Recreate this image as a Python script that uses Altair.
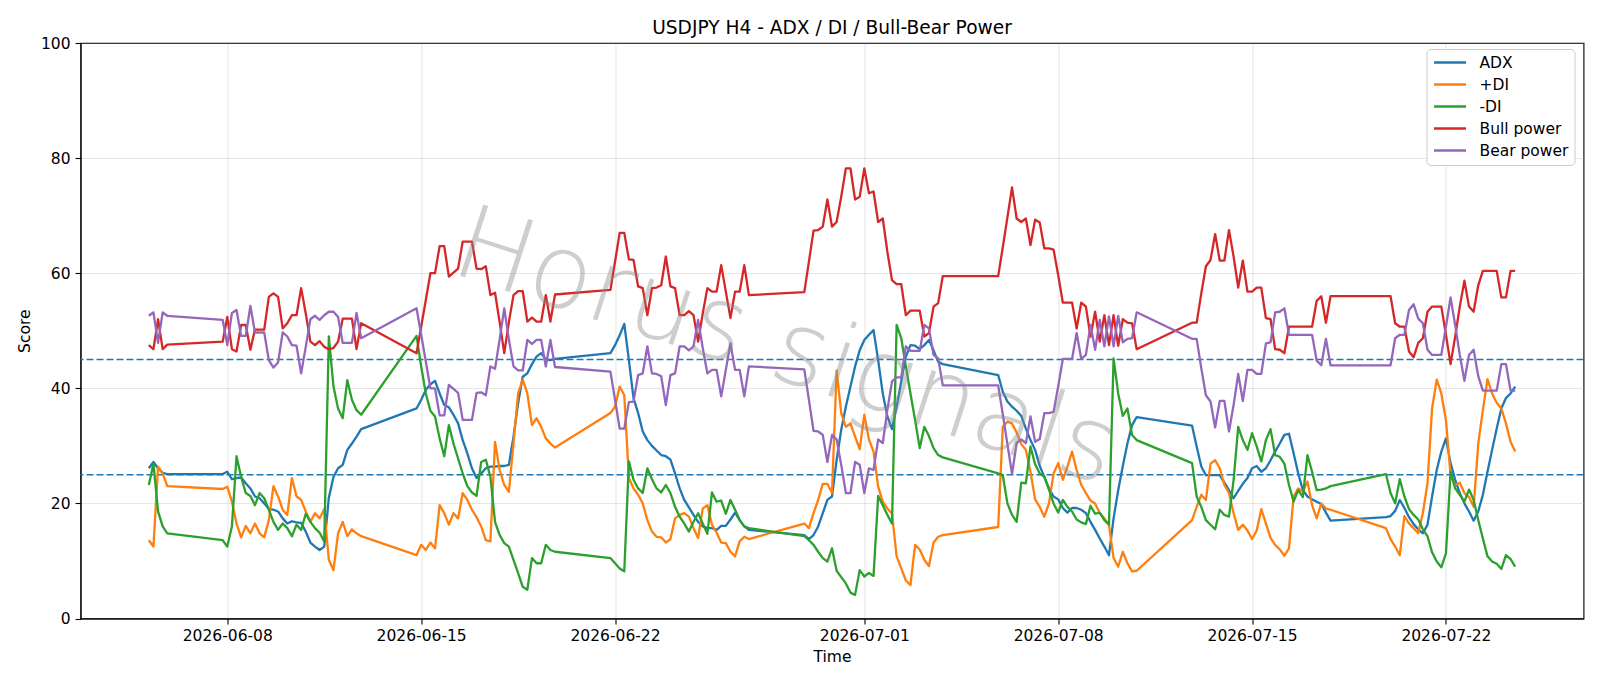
import altair as alt
import pandas as pd

# H4 trading sessions: (first bar, number of bars). Each FX week runs Sunday 20:00 -> Friday 20:00.
SESSIONS = [
    ("2026-06-05 04:00", 5),
    ("2026-06-07 20:00", 31),
    ("2026-06-14 20:00", 31),
    ("2026-06-21 20:00", 31),
    ("2026-06-28 20:00", 31),
    ("2026-07-05 20:00", 31),
    ("2026-07-12 20:00", 31),
    ("2026-07-19 20:00", 29),
]

ADX = [
    26.1, 27.2, 26.1, 25.3, 25.1,
    25.1, 25.5, 24.2, 24.4, 24.5, 23.5, 22.6, 21.2, 20.9, 20.0, 19.0, 18.9, 18.6, 17.4, 16.5, 16.9,
    16.7, 16.6, 15.1, 13.2, 12.5, 11.9, 12.5, 21.0, 24.6, 26.1, 26.7, 29.3, 30.4, 31.6, 32.9,
    36.5, 38.0, 39.7, 40.7, 41.3, 39.1, 37.1, 36.7, 35.4, 33.9, 31.0, 28.7, 26.1, 24.4, 25.2, 26.1,
    26.4, 26.4, 26.5, 26.5, 26.7, 31.6, 37.4, 42.0, 42.6, 44.2, 45.5, 46.1, 45.0, 44.9, 45.1,
    46.1, 47.5, 49.2, 51.2, 44.9, 38.3, 35.7, 32.5, 31.0, 30.0, 29.2, 28.4, 28.2, 27.6, 25.2, 22.6,
    20.6, 19.3, 18.0, 16.8, 16.0, 15.7, 15.7, 15.4, 16.1, 16.1, 17.2, 18.4, 17.1, 16.0, 15.4,
    14.5, 13.8, 14.5, 16.0, 18.3, 20.6, 21.2, 27.5, 32.8, 36.8, 40.3, 43.8, 46.6, 48.4, 49.3, 50.1,
    44.9, 39.1, 35.1, 32.9, 36.8, 41.2, 45.5, 47.5, 47.4, 46.8, 47.5, 48.4, 46.6, 44.6, 44.2,
    42.3, 39.4, 37.7, 36.8, 36.1, 35.2, 33.0, 31.0, 29.3, 26.5, 24.6, 22.6, 21.2, 20.7, 19.2, 18.4,
    19.2, 19.2, 18.9, 18.3, 16.8, 15.4, 13.9, 12.5, 11.0, 17.4, 22.3, 26.5, 30.4, 33.6, 35.0,
    33.5, 29.9, 26.4, 24.9, 24.9, 24.9, 24.9, 23.6, 22.3, 20.9, 22.2, 23.4, 24.4, 26.1, 26.5, 25.5,
    26.1, 27.5, 29.0, 30.4, 31.9, 32.1, 28.7, 25.2, 22.3, 21.2, 20.7, 20.3, 19.9, 18.4, 17.0,
    17.6, 17.8, 18.7, 20.6, 19.2, 17.6, 16.4, 15.5, 14.8, 16.3, 21.2, 25.8, 29.0, 31.3, 27.0,
    24.1, 21.8, 20.0, 18.6, 17.0, 18.6, 21.5, 25.5, 29.3, 33.0, 36.5, 38.3, 39.1, 40.3,
]

PLUS_DI = [
    13.6, 12.5, 26.4, 25.2, 23.0,
    22.5, 22.9, 20.3, 16.5, 14.1, 16.1, 14.8, 16.5, 14.8, 14.1, 17.1, 23.0, 21.2, 18.9, 18.0, 24.4,
    21.2, 20.6, 18.6, 16.8, 18.3, 17.4, 19.0, 10.2, 8.4, 14.8, 16.8, 14.3, 15.5, 14.8, 14.3,
    11.0, 12.8, 11.9, 13.2, 12.2, 19.7, 18.3, 16.3, 18.3, 17.4, 21.8, 20.6, 18.9, 17.6, 16.0, 13.6,
    13.4, 30.7, 25.8, 23.2, 22.0, 30.4, 39.1, 41.5, 39.1, 33.6, 34.8, 33.3, 31.3, 30.4, 29.7,
    35.7, 36.8, 40.3, 38.8, 24.4, 22.6, 21.5, 20.0, 17.1, 15.1, 14.2, 14.1, 13.2, 13.8, 17.4, 18.0,
    18.3, 17.7, 15.7, 14.0, 19.1, 19.7, 16.3, 14.9, 13.2, 13.1, 11.6, 10.8, 13.4, 14.2, 13.8,
    16.5, 15.7, 18.3, 20.6, 23.4, 23.4, 21.8, 43.1, 35.7, 33.3, 33.9, 31.6, 29.4, 35.4, 31.1, 29.0,
    22.9, 20.3, 19.1, 18.2, 10.8, 8.7, 6.6, 5.8, 12.8, 12.0, 10.2, 9.1, 13.2, 14.2, 14.5,
    15.9, 33.3, 34.2, 33.9, 32.3, 30.3, 29.3, 25.5, 20.7, 19.4, 17.7, 20.0, 25.2, 27.0, 24.1, 26.4,
    29.0, 25.8, 23.2, 21.8, 20.5, 20.0, 18.3, 17.4, 16.3, 10.5, 9.0, 11.6, 9.6, 8.2, 8.3,
    17.1, 19.4, 21.5, 20.6, 26.9, 27.5, 26.1, 23.2, 21.8, 18.3, 15.4, 16.3, 15.3, 13.8, 15.3, 19.0,
    16.5, 14.0, 12.8, 12.0, 10.9, 12.2, 21.2, 22.6, 22.0, 23.8, 19.7, 17.4, 20.0, 19.1, 18.9,
    15.7, 13.8, 12.5, 11.0, 17.8, 16.5, 15.7, 14.8, 18.3, 23.5, 36.5, 41.5, 39.1, 34.5, 24.9,
    23.2, 23.6, 21.8, 21.1, 19.4, 30.4, 36.2, 41.6, 39.1, 37.5, 36.5, 33.9, 30.7, 29.0,
]

MINUS_DI = [
    23.2, 26.9, 18.6, 16.0, 14.8,
    13.6, 12.5, 16.0, 28.2, 24.6, 21.8, 21.3, 19.7, 21.8, 20.9, 18.9, 16.8, 15.4, 16.5, 15.7, 14.3,
    16.3, 15.4, 18.2, 16.8, 15.7, 14.9, 13.4, 49.0, 40.3, 36.5, 34.8, 41.4, 38.0, 36.2, 35.4,
    49.1, 43.8, 39.1, 36.1, 35.1, 31.3, 28.2, 33.6, 30.4, 27.8, 25.2, 23.0, 21.9, 21.3, 27.2, 27.6,
    24.6, 16.8, 14.5, 13.1, 12.5, 10.2, 7.9, 5.5, 5.0, 10.5, 9.6, 9.6, 12.8, 11.9, 11.6,
    10.5, 9.6, 8.7, 8.2, 27.3, 24.1, 22.6, 21.8, 26.1, 24.2, 22.6, 21.9, 23.2, 21.8, 19.4, 17.7,
    16.5, 15.1, 16.8, 18.3, 16.5, 14.7, 21.9, 20.3, 20.5, 18.2, 20.6, 18.9, 17.1, 16.0, 15.7,
    14.3, 13.6, 12.8, 11.6, 10.5, 9.9, 12.2, 8.3, 7.2, 6.1, 4.5, 4.1, 8.4, 7.3, 7.9, 7.4,
    21.3, 19.7, 18.0, 16.5, 51.0, 48.7, 43.8, 39.1, 34.5, 29.6, 33.3, 31.7, 29.6, 28.4, 28.0,
    25.2, 24.9, 20.0, 18.0, 16.8, 23.6, 23.5, 29.9, 26.8, 25.2, 24.6, 22.4, 20.0, 18.4, 20.6, 19.4,
    18.6, 17.2, 16.7, 16.4, 19.6, 18.2, 18.4, 17.1, 16.3, 45.2, 39.1, 35.2, 36.5, 31.9, 31.0,
    27.0, 21.2, 19.4, 17.1, 16.3, 15.5, 18.9, 18.0, 17.7, 24.1, 33.3, 31.0, 29.3, 32.2, 29.9, 27.3,
    31.0, 32.9, 28.4, 28.1, 26.9, 23.2, 20.3, 22.3, 21.1, 28.4, 25.5, 22.3, 22.4, 22.6, 23.0,
    25.1, 21.8, 20.0, 24.2, 21.2, 19.0, 18.0, 17.2, 15.5, 14.3, 11.5, 9.9, 8.9, 11.3, 25.5,
    22.6, 21.5, 20.3, 22.4, 20.6, 17.1, 13.9, 10.8, 9.9, 9.5, 8.6, 11.0, 10.3, 9.0,
]

BULL = [
    47.5, 46.8, 52.0, 46.8, 47.6,
    48.1, 52.4, 46.8, 46.4, 51.0, 51.0, 46.7, 50.2, 50.2, 50.2, 55.9, 56.5, 55.9, 50.4, 51.3, 52.7,
    52.7, 57.4, 53.0, 48.1, 47.5, 48.2, 47.2, 46.8, 47.0, 48.1, 52.1, 52.1, 52.1, 46.8, 51.3,
    46.1, 50.7, 55.3, 60.0, 60.0, 64.7, 64.7, 59.4, 60.1, 60.8, 65.5, 65.5, 65.5, 60.8, 60.7, 61.2,
    56.2, 56.6, 51.5, 46.1, 51.5, 56.2, 56.9, 56.9, 51.6, 52.3, 51.6, 51.6, 56.2, 51.6, 56.3,
    57.1, 62.0, 67.0, 67.0, 62.4, 62.3, 57.7, 57.4, 52.7, 57.4, 57.5, 57.9, 62.9, 57.7, 57.4, 52.7,
    52.7, 53.4, 52.7, 48.1, 53.0, 57.4, 56.8, 56.8, 61.4, 56.8, 52.2, 56.8, 56.8, 61.4, 56.2,
    56.7, 62.0, 67.4, 67.5, 68.1, 72.8, 68.1, 68.9, 73.3, 78.2, 78.2, 72.8, 73.3, 78.2, 73.9, 74.2,
    68.9, 69.5, 63.7, 58.8, 58.1, 58.1, 52.7, 53.5, 53.5, 53.5, 49.0, 49.6, 54.2, 54.8, 59.5,
    59.5, 64.5, 69.7, 74.9, 69.5, 68.9, 69.5, 64.9, 69.3, 68.8, 64.3, 64.3, 64.1, 59.7, 54.9, 54.9,
    54.9, 50.4, 54.9, 54.2, 49.0, 53.3, 48.1, 52.7, 47.5, 52.7, 47.4, 52.0, 51.4, 51.3, 46.8,
    51.4, 51.4, 56.5, 61.2, 62.3, 66.8, 62.2, 62.2, 67.5, 62.9, 57.5, 62.2, 56.8, 56.8, 57.5, 57.5,
    52.2, 52.0, 46.8, 46.7, 46.1, 50.7, 50.7, 50.7, 50.7, 50.7, 50.7, 55.2, 56.0, 51.4, 56.0,
    56.0, 56.0, 51.3, 50.7, 50.7, 46.4, 45.4, 47.9, 48.7, 53.3, 54.2, 54.2, 54.2, 49.3, 44.2,
    49.0, 54.2, 58.7, 54.2, 53.3, 57.9, 60.4, 60.4, 60.4, 60.4, 55.8, 55.8, 60.4, 60.4,
]

BEAR = [
    52.6, 53.2, 47.9, 53.2, 52.6,
    51.9, 47.5, 53.1, 53.6, 49.1, 49.1, 54.3, 49.7, 49.7, 49.7, 44.9, 43.6, 44.5, 49.7, 49.0, 47.5,
    47.4, 42.6, 47.2, 52.0, 52.6, 51.9, 52.7, 53.3, 53.3, 52.4, 47.9, 47.9, 47.9, 53.1, 48.7,
    53.9, 49.3, 44.7, 40.0, 40.0, 35.3, 35.3, 40.6, 39.9, 39.2, 34.5, 34.5, 34.5, 39.2, 39.3, 38.8,
    43.8, 43.4, 48.5, 53.9, 48.5, 43.8, 43.1, 43.1, 48.4, 47.7, 48.4, 48.4, 43.8, 48.4, 43.7,
    42.9, 38.0, 33.0, 33.0, 37.6, 37.7, 42.3, 42.6, 47.3, 42.6, 42.5, 42.1, 37.1, 42.3, 42.6, 47.3,
    47.3, 46.6, 47.3, 51.9, 47.0, 42.6, 43.2, 43.2, 38.6, 43.2, 47.8, 43.2, 43.2, 38.6, 43.8,
    43.3, 38.0, 32.6, 32.5, 31.9, 27.2, 31.9, 31.1, 26.7, 21.8, 21.8, 27.2, 26.7, 21.8, 26.1, 25.8,
    31.1, 30.5, 36.3, 41.2, 41.9, 41.9, 47.3, 46.5, 46.5, 46.5, 51.0, 50.4, 45.8, 45.2, 40.5,
    40.5, 35.5, 30.3, 25.1, 30.5, 31.1, 30.5, 35.1, 30.7, 31.2, 35.7, 35.7, 35.9, 40.3, 45.1, 45.1,
    45.1, 49.6, 45.1, 45.8, 51.0, 46.7, 51.9, 47.3, 52.5, 47.3, 52.6, 48.0, 48.6, 48.7, 53.2,
    48.6, 48.6, 43.5, 38.8, 37.7, 33.2, 37.8, 37.8, 32.5, 37.1, 42.5, 37.8, 43.2, 43.2, 42.5, 42.5,
    47.8, 48.0, 53.2, 53.3, 53.9, 49.3, 49.3, 49.3, 49.3, 49.3, 49.3, 44.8, 44.0, 48.6, 44.0,
    44.0, 44.0, 48.7, 49.3, 49.3, 53.6, 54.6, 52.1, 51.3, 46.7, 45.8, 45.8, 45.8, 50.7, 55.8,
    51.0, 45.8, 41.3, 45.8, 46.7, 42.1, 39.6, 39.6, 39.6, 39.6, 44.2, 44.2, 39.6, 39.6,
]

SERIES_NAMES = ["ADX", "+DI", "-DI", "Bull power", "Bear power"]
SERIES_VALUES = [ADX, PLUS_DI, MINUS_DI, BULL, BEAR]
SERIES_COLORS = ["#1f77b4", "#ff7f0e", "#2ca02c", "#d62728", "#9467bd"]
THRESHOLDS = [25, 45]
TICK_DATES = [(6, 8), (6, 15), (6, 22), (7, 1), (7, 8), (7, 15), (7, 22)]

FONT = "DejaVu Sans"

# bar timestamps
times = []
for start, n in SESSIONS:
    times.extend(pd.date_range(start, periods=n, freq="4h"))
stamps = [t.strftime("%Y-%m-%dT%H:%M:%S") for t in times]

rows = []
for name, vals in zip(SERIES_NAMES, SERIES_VALUES):
    assert len(vals) == len(stamps), (name, len(vals), len(stamps))
    for ts, v in zip(stamps, vals):
        rows.append({"time": ts, "series": name, "value": v})
df = pd.DataFrame(rows)

x_enc = alt.X(
    "time:T",
    scale=alt.Scale(domain=[
        alt.DateTime(year=2026, month=6, date=2, hours=16, minutes=48),
        alt.DateTime(year=2026, month=7, date=26, hours=23, minutes=12),
    ]),
    axis=alt.Axis(
        values=[alt.DateTime(year=2026, month=m, date=d) for m, d in TICK_DATES],
        format="%Y-%m-%d",
        title="Time",
        labelFlush=False,
        labelOverlap=False,
    ),
)
y_enc = alt.Y(
    "value:Q",
    scale=alt.Scale(domain=[0, 100], nice=False, zero=False),
    axis=alt.Axis(values=[0, 20, 40, 60, 80, 100], title="Score"),
)
color_enc = alt.Color(
    "series:N",
    scale=alt.Scale(domain=SERIES_NAMES, range=SERIES_COLORS),
    legend=alt.Legend(
        title=None,
        orient="none",
        legendX=1346,
        legendY=6,
        symbolType="stroke",
        symbolSize=1024,
        symbolStrokeWidth=2.3,
        labelFontSize=15.5,
        labelFont=FONT,
        labelColor="black",
        labelOffset=12,
        padding=6,
        rowPadding=6,
        clipHeight=15,
        strokeColor="#cccccc",
        fillColor="white",
        cornerRadius=4,
    ),
)

# one layer per series so later series are drawn on top
line_layers = [
    alt.Chart(df)
    .transform_filter(alt.datum.series == name)
    .mark_line(strokeWidth=2.3, strokeJoin="round")
    .encode(x=x_enc, y=y_enc, color=color_enc)
    for name in SERIES_NAMES
]

rules = (
    alt.Chart(pd.DataFrame({"level": THRESHOLDS}))
    .mark_rule(color="#1f77b4", strokeDash=[7, 3], strokeWidth=1.5)
    .encode(y=alt.Y("level:Q"))
)

watermark = (
    alt.Chart(pd.DataFrame({"label": ["Horus signals"]}))
    .mark_text(
        font=FONT,
        fontSize=103,
        fontWeight=200,
        angle=18,
        align="center",
        baseline="middle",
        color="#8c8c8c",
        opacity=0.42,
    )
    .encode(text="label:N", x=alt.value(705), y=alt.value(306))
)

chart = (
    alt.layer(rules, *line_layers, watermark)
    .properties(
        width=1503,
        height=575.5,
        title=alt.TitleParams(
            "USDJPY H4 - ADX / DI / Bull-Bear Power",
            fontSize=18.6,
            font=FONT,
            fontWeight="normal",
            color="black",
            anchor="middle",
            offset=-2,
        ),
        autosize=alt.AutoSizeParams(type="none"),
        padding={"left": 80.5, "top": 43, "right": 16.5, "bottom": 67.5},
    )
    .configure(font=FONT)
    .configure_view(stroke="black", strokeWidth=1.1)
    .configure_axis(
        labelFont=FONT,
        labelFontSize=15.5,
        labelColor="black",
        titleFont=FONT,
        titleFontSize=15.5,
        titleFontWeight="normal",
        titleColor="black",
        tickColor="black",
        tickSize=5.4,
        tickWidth=1.1,
        labelPadding=5,
        domainColor="black",
        domainWidth=1.1,
        gridColor="#b0b0b0",
        gridOpacity=0.32,
        gridWidth=1.1,
    )
    .configure_axisX(titlePadding=5)
    .configure_axisY(titlePadding=8)
)

chart.save("out.html", embed_options={"renderer": "svg", "actions": False})
